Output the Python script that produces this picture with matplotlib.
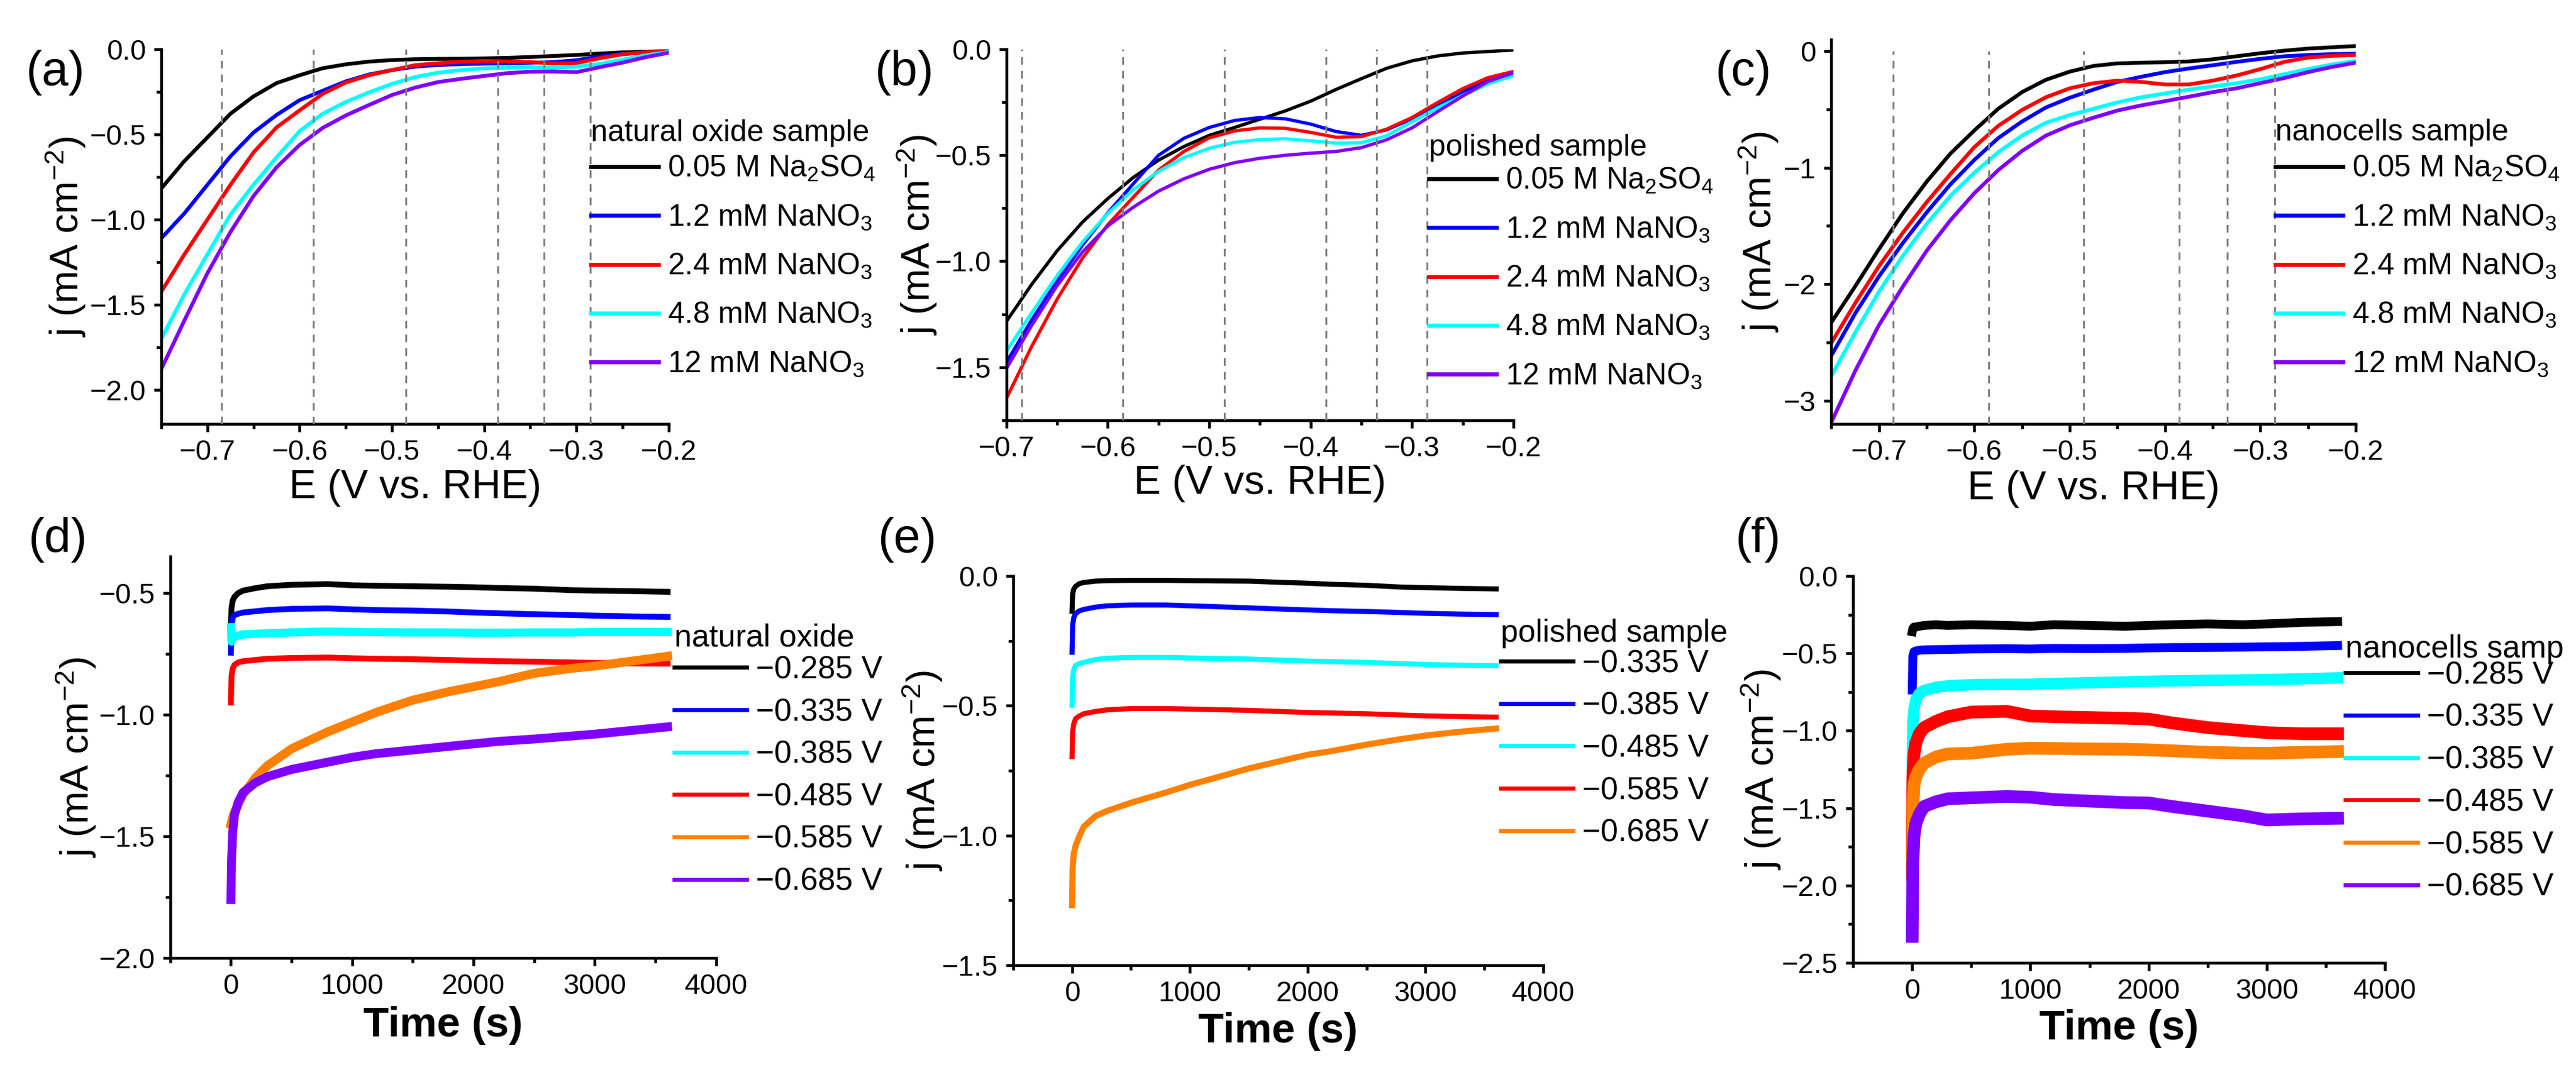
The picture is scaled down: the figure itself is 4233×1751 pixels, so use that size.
import matplotlib
matplotlib.use("Agg")
import matplotlib.pyplot as plt
from matplotlib.ticker import MultipleLocator

plt.rcParams['font.family'] = ['Liberation Sans', 'DejaVu Sans']
plt.rcParams['mathtext.fontset'] = 'custom'
plt.rcParams['mathtext.rm'] = 'Liberation Sans'
plt.rcParams['mathtext.it'] = 'Liberation Sans:italic'
plt.rcParams['mathtext.bf'] = 'Liberation Sans:bold'

# ---- LSV data (j in mA cm-2) ----
E_ac = [-0.75, -0.725, -0.70, -0.675, -0.65, -0.625, -0.60, -0.575, -0.55, -0.525, -0.50, -0.475,
        -0.45, -0.425, -0.40, -0.375, -0.35, -0.325, -0.30, -0.275, -0.25, -0.225, -0.20]
E_b = [-0.70, -0.675, -0.65, -0.625, -0.60, -0.575, -0.55, -0.525, -0.50, -0.475, -0.45,
       -0.425, -0.40, -0.375, -0.35, -0.325, -0.30, -0.275, -0.25, -0.225, -0.20]

cv_a = [
    [-0.819, -0.658, -0.519, -0.380, -0.278, -0.200, -0.154, -0.113, -0.090, -0.074, -0.065, -0.060,
     -0.058, -0.057, -0.055, -0.052, -0.047, -0.041, -0.035, -0.027, -0.020, -0.016, -0.013],
    [-1.111, -0.965, -0.797, -0.630, -0.490, -0.387, -0.300, -0.245, -0.190, -0.150, -0.124, -0.104,
     -0.094, -0.089, -0.086, -0.084, -0.081, -0.077, -0.066, -0.044, -0.029, -0.022, -0.016],
    [-1.425, -1.206, -1.001, -0.797, -0.607, -0.460, -0.360, -0.263, -0.197, -0.154, -0.124, -0.095,
     -0.083, -0.075, -0.070, -0.073, -0.077, -0.085, -0.083, -0.054, -0.031, -0.019, -0.013],
    [-1.703, -1.440, -1.206, -0.972, -0.797, -0.636, -0.482, -0.380, -0.311, -0.255, -0.205, -0.165,
     -0.139, -0.124, -0.114, -0.110, -0.107, -0.110, -0.104, -0.088, -0.063, -0.037, -0.018],
    [-1.879, -1.594, -1.316, -1.074, -0.863, -0.694, -0.563, -0.463, -0.390, -0.329, -0.270, -0.227,
     -0.194, -0.175, -0.158, -0.142, -0.133, -0.132, -0.136, -0.107, -0.080, -0.048, -0.022],
]
cv_b = [
    [-1.284, -1.109, -0.951, -0.816, -0.705, -0.606, -0.524, -0.460, -0.407, -0.370, -0.331,
     -0.292, -0.246, -0.191, -0.140, -0.091, -0.056, -0.033, -0.019, -0.012, -0.005],
    [-1.477, -1.276, -1.094, -0.925, -0.772, -0.636, -0.501, -0.421, -0.370, -0.337, -0.323,
     -0.329, -0.354, -0.389, -0.407, -0.381, -0.329, -0.267, -0.202, -0.147, -0.109],
    [-1.647, -1.401, -1.179, -0.986, -0.828, -0.699, -0.571, -0.483, -0.419, -0.386, -0.372,
     -0.374, -0.393, -0.416, -0.413, -0.378, -0.323, -0.253, -0.187, -0.135, -0.106],
    [-1.425, -1.243, -1.068, -0.910, -0.775, -0.664, -0.577, -0.512, -0.468, -0.440, -0.427,
     -0.423, -0.433, -0.444, -0.442, -0.409, -0.343, -0.278, -0.220, -0.164, -0.126],
    [-1.506, -1.302, -1.115, -0.957, -0.834, -0.746, -0.670, -0.612, -0.567, -0.536, -0.515,
     -0.501, -0.491, -0.483, -0.465, -0.428, -0.372, -0.296, -0.222, -0.153, -0.112],
]
cv_c = [
    [-2.330, -2.020, -1.700, -1.393, -1.121, -0.879, -0.681, -0.495, -0.352, -0.246, -0.176, -0.127,
     -0.105, -0.099, -0.095, -0.088, -0.070, -0.044, -0.018, 0.004, 0.022, 0.033, 0.044],
    [-2.615, -2.253, -1.934, -1.648, -1.385, -1.143, -0.934, -0.747, -0.604, -0.484, -0.400, -0.330,
     -0.264, -0.220, -0.180, -0.149, -0.121, -0.092, -0.066, -0.044, -0.033, -0.026, -0.022],
    [-2.505, -2.165, -1.846, -1.560, -1.297, -1.055, -0.824, -0.642, -0.505, -0.396, -0.319, -0.275,
     -0.253, -0.264, -0.286, -0.286, -0.253, -0.209, -0.154, -0.092, -0.055, -0.040, -0.033],
    [-2.791, -2.418, -2.066, -1.758, -1.484, -1.242, -1.044, -0.868, -0.725, -0.615, -0.549, -0.495,
     -0.440, -0.396, -0.363, -0.330, -0.303, -0.275, -0.242, -0.198, -0.154, -0.114, -0.084],
    [-3.187, -2.747, -2.352, -2.022, -1.714, -1.451, -1.220, -1.022, -0.857, -0.725, -0.637, -0.571,
     -0.510, -0.466, -0.429, -0.391, -0.352, -0.319, -0.275, -0.231, -0.180, -0.136, -0.099],
]
cv_labels = ['0.05 M Na$_2$SO$_4$', '1.2 mM NaNO$_3$', '2.4 mM NaNO$_3$',
             '4.8 mM NaNO$_3$', '12 mM NaNO$_3$']
E_marks = [-0.685, -0.585, -0.485, -0.385, -0.335, -0.285]

# ---- chronoamperometry data ----
t = [0, 5, 15, 30, 60, 100, 200, 300, 500, 800, 1000, 1200, 1500, 1800, 2000, 2200, 2500,
     2800, 3000, 3300, 3600]
ca_d = [
    [-0.64, -0.56, -0.53, -0.515, -0.50, -0.49, -0.48, -0.472, -0.466, -0.463, -0.468, -0.470,
     -0.472, -0.474, -0.476, -0.479, -0.482, -0.488, -0.490, -0.492, -0.495],
    [-0.745, -0.64, -0.60, -0.59, -0.585, -0.58, -0.575, -0.570, -0.565, -0.563, -0.567, -0.570,
     -0.572, -0.576, -0.580, -0.583, -0.587, -0.590, -0.593, -0.596, -0.598],
    [-0.64, -0.70, -0.69, -0.68, -0.675, -0.67, -0.668, -0.665, -0.662, -0.658, -0.660, -0.661,
     -0.662, -0.662, -0.663, -0.663, -0.662, -0.662, -0.660, -0.660, -0.660],
    [-0.95, -0.84, -0.81, -0.795, -0.785, -0.78, -0.775, -0.770, -0.767, -0.765, -0.768, -0.770,
     -0.772, -0.775, -0.778, -0.780, -0.782, -0.785, -0.787, -0.789, -0.790],
    [-1.45, -1.44, -1.42, -1.40, -1.37, -1.33, -1.26, -1.21, -1.14, -1.07, -1.03, -0.99,
     -0.94, -0.905, -0.885, -0.865, -0.83, -0.81, -0.80, -0.78, -0.76],
    [-1.76, -1.60, -1.48, -1.41, -1.36, -1.32, -1.28, -1.255, -1.225, -1.195, -1.175, -1.16,
     -1.145, -1.13, -1.12, -1.11, -1.10, -1.088, -1.08, -1.065, -1.05],
]
ca_e = [
    [-0.136, -0.07, -0.05, -0.04, -0.03, -0.025, -0.02, -0.018, -0.017, -0.017, -0.018, -0.019,
     -0.020, -0.025, -0.028, -0.032, -0.036, -0.043, -0.045, -0.048, -0.050],
    [-0.294, -0.19, -0.16, -0.145, -0.135, -0.129, -0.12, -0.115, -0.112, -0.112, -0.115, -0.118,
     -0.123, -0.128, -0.131, -0.134, -0.137, -0.141, -0.144, -0.147, -0.149],
    [-0.498, -0.39, -0.36, -0.345, -0.338, -0.333, -0.322, -0.317, -0.314, -0.314, -0.316, -0.318,
     -0.320, -0.325, -0.328, -0.330, -0.333, -0.338, -0.341, -0.344, -0.346],
    [-0.696, -0.60, -0.57, -0.55, -0.54, -0.531, -0.522, -0.516, -0.511, -0.511, -0.513, -0.515,
     -0.518, -0.523, -0.526, -0.528, -0.531, -0.536, -0.539, -0.542, -0.544],
    [-1.269, -1.12, -1.07, -1.04, -1.005, -0.966, -0.925, -0.905, -0.874, -0.834, -0.805, -0.78,
     -0.742, -0.71, -0.689, -0.675, -0.65, -0.628, -0.615, -0.600, -0.588],
]
ca_f = [
    [-0.36, -0.34, -0.33, -0.33, -0.325, -0.32, -0.315, -0.32, -0.315, -0.32, -0.325, -0.315,
     -0.32, -0.325, -0.32, -0.315, -0.31, -0.315, -0.31, -0.30, -0.295],
    [-0.737, -0.52, -0.49, -0.485, -0.48, -0.478, -0.476, -0.475, -0.472, -0.47, -0.472, -0.468,
     -0.47, -0.468, -0.465, -0.463, -0.462, -0.46, -0.458, -0.455, -0.45],
    [-1.334, -0.95, -0.86, -0.80, -0.76, -0.74, -0.72, -0.71, -0.703, -0.70, -0.70, -0.695,
     -0.69, -0.685, -0.681, -0.678, -0.675, -0.672, -0.670, -0.665, -0.659],
    [-1.777, -1.30, -1.15, -1.08, -1.02, -0.98, -0.94, -0.91, -0.88, -0.875, -0.905, -0.91,
     -0.915, -0.92, -0.925, -0.95, -0.98, -1.00, -1.013, -1.02, -1.02],
    [-1.931, -1.50, -1.35, -1.30, -1.25, -1.21, -1.17, -1.15, -1.146, -1.12, -1.113, -1.115,
     -1.118, -1.12, -1.124, -1.13, -1.14, -1.145, -1.146, -1.14, -1.135],
    [-2.33, -1.85, -1.68, -1.60, -1.54, -1.49, -1.46, -1.44, -1.434, -1.425, -1.43, -1.445,
     -1.455, -1.465, -1.467, -1.49, -1.52, -1.55, -1.577, -1.57, -1.566],
]
ca_labels_d = ['\u22120.285 V', '\u22120.335 V', '\u22120.385 V', '\u22120.485 V', '\u22120.585 V', '\u22120.685 V']
ca_labels_e = ['\u22120.335 V', '\u22120.385 V', '\u22120.485 V', '\u22120.585 V', '\u22120.685 V']

cv_colors = ['#000000', '#0000ff', '#ff0000', '#00ffff', '#8000ff']
ca_colors = ['#000000', '#0000ff', '#00ffff', '#ff0000', '#ff8000', '#8000ff']
ca_colors_e = ['#000000', '#0000ff', '#00ffff', '#ff0000', '#ff8000']

W, H = 4233, 1751
fig = plt.figure(figsize=(W / 300, H / 300), dpi=300)


def style_axes(ax):
    for s in ['top', 'right']:
        ax.spines[s].set_visible(False)
    for s in ['left', 'bottom']:
        ax.spines[s].set_linewidth(1.1)
    ax.tick_params(which='major', direction='out', length=3, width=1.1, labelsize=11.2, pad=3)
    ax.tick_params(which='minor', direction='out', length=2, width=1.1)


def add_legend(ax, title, px, py_title, py_mid, fontsize, spacing, hlen):
    # legend title as separate text, entries centred on py_mid (pixel coords of the figure)
    leg = ax.legend(loc='center left', bbox_to_anchor=(px / W, 1 - py_mid / H),
                    bbox_transform=fig.transFigure, frameon=False,
                    borderpad=0, borderaxespad=0, handlelength=hlen, handletextpad=0.3,
                    labelspacing=spacing, fontsize=fontsize)
    for h in leg.get_lines():
        h.set_linewidth(1.6)
    fig.text(px / W, 1 - py_title / H, title, fontsize=fontsize, ha='left', va='center')
    return leg


def cv_panel(rect, E, data, xlim, ylim, ymaj, title, legpos, ylab_x, lw):
    ax = fig.add_axes(rect)
    for vals, col, lab in zip(data, cv_colors, cv_labels):
        ax.plot(E, vals, color=col, lw=lw, label=lab, zorder=2)
    ax.vlines(E_marks, ylim[0], 0, colors='#808080', linestyles=(0, (4, 3.2)), lw=0.75, zorder=3)
    ax.set_xlim(*xlim)
    ax.set_ylim(*ylim)
    ax.xaxis.set_major_locator(MultipleLocator(0.1))
    ax.xaxis.set_minor_locator(MultipleLocator(0.05))
    ax.yaxis.set_major_locator(MultipleLocator(ymaj))
    ax.yaxis.set_minor_locator(MultipleLocator(ymaj / 2))
    style_axes(ax)
    ax.set_xlabel('E (V vs. RHE)', fontsize=16)
    ax.set_ylabel('j (mA cm$^{-2}$)', fontsize=15.5)
    ax.xaxis.set_label_coords(0.5, -0.12)
    ax.yaxis.set_label_coords(ylab_x, 0.5)
    add_legend(ax, title, *legpos, 11.9, 0.65, 2.24)
    return ax


def ca_panel(rect, data, colors, labels, widths, ylim, title, legpos, ylab_x):
    ax = fig.add_axes(rect)
    for vals, col, lab, w in zip(data, colors, labels, widths):
        ax.plot(t, vals, color=col, lw=w, label=lab, solid_joinstyle='round')
    ax.set_xlim(-500, 4000)
    ax.set_ylim(*ylim)
    ax.xaxis.set_major_locator(MultipleLocator(1000))
    ax.xaxis.set_minor_locator(MultipleLocator(500))
    ax.yaxis.set_major_locator(MultipleLocator(0.5))
    ax.yaxis.set_minor_locator(MultipleLocator(0.25))
    style_axes(ax)
    ax.set_xlabel('Time (s)', fontsize=16.5, fontweight='bold')
    ax.set_ylabel('j (mA cm$^{-2}$)', fontsize=15.5)
    ax.xaxis.set_label_coords(0.5, -0.12)
    ax.yaxis.set_label_coords(ylab_x, 0.5)
    add_legend(ax, title, *legpos, 12.4, 0.40, 2.3)
    return ax


cv_panel([0.0626, 0.602, 0.197, 0.352], E_ac, cv_a, (-0.75, -0.2), (-2.2, 0.0), 0.5,
         'natural oxide sample', (971, 219, 438), -0.145, 1.5)
cv_panel([0.3907, 0.6054, 0.1968, 0.3486], E_b, cv_b, (-0.7, -0.2), (-1.75, 0.0), 0.5,
         'polished sample', (2348, 243, 458), -0.133, 1.3)
cv_panel([0.7109, 0.602, 0.2036, 0.3609], E_ac, cv_c, (-0.75, -0.2), (-3.2, 0.1), 1.0,
         'nanocells sample', (3739, 218, 438), -0.097, 1.5)

ca_panel([0.0661, 0.1005, 0.2119, 0.3769], ca_d, ca_colors, ca_labels_d,
         [2.3, 2.3, 3.2, 2.3, 3.5, 3.5], (-2.0, -0.35), 'natural oxide', (1108, 1049, 1276), -0.132)
ca_panel([0.3933, 0.0937, 0.2058, 0.3655], ca_e, ca_colors_e, ca_labels_e,
         [2.0, 2.0, 2.0, 2.0, 2.4], (-1.5, 0.0), 'polished sample', (2466, 1041, 1231), -0.129)
ca_panel([0.7194, 0.096, 0.2064, 0.3632], ca_f, ca_colors, ca_labels_d,
         [3.5, 3.5, 4.5, 5.0, 5.0, 5.0], (-2.5, 0.0), 'nanocells samp', (3854, 1068, 1285), -0.132)

panel_tags = ['(a)', '(b)', '(c)', '(d)', '(e)', '(f)']
tag_x = [0.0099, 0.3395, 0.6657, 0.0109, 0.3407, 0.6735]
tag_y = [0.932, 0.932, 0.932, 0.493, 0.493, 0.493]
for tag, x, y in zip(panel_tags, tag_x, tag_y):
    fig.text(x, y, tag, fontsize=19, ha='left', va='center')

fig.savefig('out.png', dpi=300)
